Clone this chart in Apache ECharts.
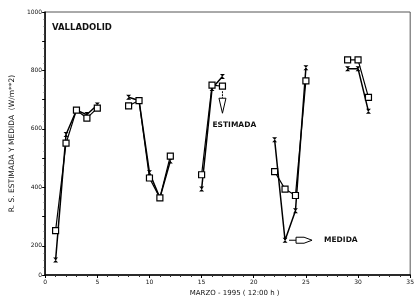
<!DOCTYPE html>
<html><head><meta charset="utf-8">
<script src="https://cdn.jsdelivr.net/npm/echarts@6/dist/echarts.min.js"></script>
<style>html,body{margin:0;padding:0;background:#fff}#c{width:417px;height:302px}</style>
</head><body><div id="c"></div>
<script>
// Days of March 1995 (null = gap between measurement runs)
const days     = [1,2,3,4,5,null,8,9,10,11,12,null,15,16,17,null,22,23,24,25,null,29,30,31];
const estimada = [252,551,664,637,671,null,679,697,432,364,507,null,443,750,746,null,454,394,372,764,null,836,836,708];
const medida   = [151,581,664,649,682,null,708,697,450,364,490,null,394,738,779,null,563,219,320,809,null,806,806,660];
const xTickLabels = ['0','5','10','15','20','25','30','35'];
const yTickLabels = {100:'0',200:'200',400:'400',600:'600',800:'800',1000:'1000'};

const toData = vals => days.map((d,i) => d === null ? '-' : [d, vals[i]]);

const chart = echarts.init(document.getElementById('c'));
const font = 'DejaVu Sans';
chart.setOption({
  animation: false,
  backgroundColor: '#fff',
  grid: {left: 38, right: 4, top: 12, bottom: 26, show: true, borderColor: '#555', borderWidth: 1},
  xAxis: {
    type: 'value', min: 0, max: 35, interval: 5,
    name: 'MARZO - 1995 ( 12:00 h )', nameLocation: 'middle', nameGap: 15,
    nameTextStyle: {fontFamily: font, fontSize: 7, color: '#111', padding: [0, 0, 0, 14]},
    axisLine: {lineStyle: {color: '#000', width: 1.5}},
    axisTick: {show: true, length: 3, lineStyle: {color: '#000'}},
    minorTick: {show: true, splitNumber: 5, length: 2, lineStyle: {color: '#333'}},
    axisLabel: {fontFamily: font, fontSize: 6, color: '#111', margin: 4,
      formatter: v => xTickLabels[v/5] ?? ''},
    splitLine: {show: false}
  },
  yAxis: {
    type: 'value', min: 100, max: 1000, interval: 100,
    name: 'R. S. ESTIMADA Y MEDIDA  (W/m**2)', nameLocation: 'middle', nameGap: 27, nameRotate: 90,
    nameTextStyle: {fontFamily: font, fontSize: 7.5, color: '#111'},
    axisLine: {lineStyle: {color: '#000', width: 1.5}},
    axisTick: {show: true, length: 3, lineStyle: {color: '#000'}},
    minorTick: {show: true, splitNumber: 4, length: 1.5, lineStyle: {color: '#444'}},
    axisLabel: {fontFamily: font, fontSize: 6, color: '#111', margin: 3,
      formatter: v => yTickLabels[v] ?? ''},
    splitLine: {show: false}
  },
  series: [
    {name: 'MEDIDA', type: 'line', data: toData(medida), connectNulls: false,
     symbol: 'path://M0,0L10,0L5,5L10,10L0,10L5,5Z', symbolSize: 5, showAllSymbol: true,
     lineStyle: {color: '#000', width: 1.5}, itemStyle: {color: '#000'}},
    {name: 'ESTIMADA', type: 'line', data: toData(estimada), connectNulls: false,
     symbol: 'rect', symbolSize: 6, showAllSymbol: true,
     lineStyle: {color: '#000', width: 1.2}, itemStyle: {color: '#fff', borderColor: '#000', borderWidth: 1.2}}
  ]
});

// Annotations anchored to data points
const iE = days.indexOf(17), iM = days.indexOf(23);
const pE = chart.convertToPixel({gridIndex: 0}, [days[iE], estimada[iE]]);
const pM = chart.convertToPixel({gridIndex: 0}, [days[iM], medida[iM]]);
const g = [
  {type: 'text', left: 52, top: 23, style: {text: 'VALLADOLID', font: 'bold 8.5px ' + font, fill: '#111'}},
  {type: 'line', shape: {x1: pE[0], y1: pE[1] + 5, x2: pE[0], y2: pE[1] + 12}, style: {stroke: '#000', lineWidth: 1, lineDash: [2, 1]}},
  {type: 'polygon', shape: {points: [[pE[0]-3.5, pE[1]+12],[pE[0]+3.5, pE[1]+12],[pE[0], pE[1]+27]]}, style: {fill: '#fff', stroke: '#000', lineWidth: 1}},
  {type: 'text', x: pE[0] - 10, y: pE[1] + 35, style: {text: 'ESTIMADA', font: 'bold 7.5px ' + font, fill: '#111'}},
  {type: 'line', shape: {x1: pM[0] + 4, y1: pM[1], x2: pM[0] + 11, y2: pM[1]}, style: {stroke: '#000', lineWidth: 1}},
  {type: 'polygon', shape: {points: [[pM[0]+11, pM[1]-3],[pM[0]+19, pM[1]-3],[pM[0]+27, pM[1]],[pM[0]+19, pM[1]+3],[pM[0]+11, pM[1]+3]]}, style: {fill: '#fff', stroke: '#000', lineWidth: 1}},
  {type: 'text', x: pM[0] + 39, y: pM[1] - 4, style: {text: 'MEDIDA', font: 'bold 7.5px ' + font, fill: '#111'}}
];
chart.setOption({graphic: g});
</script>
</body></html>
